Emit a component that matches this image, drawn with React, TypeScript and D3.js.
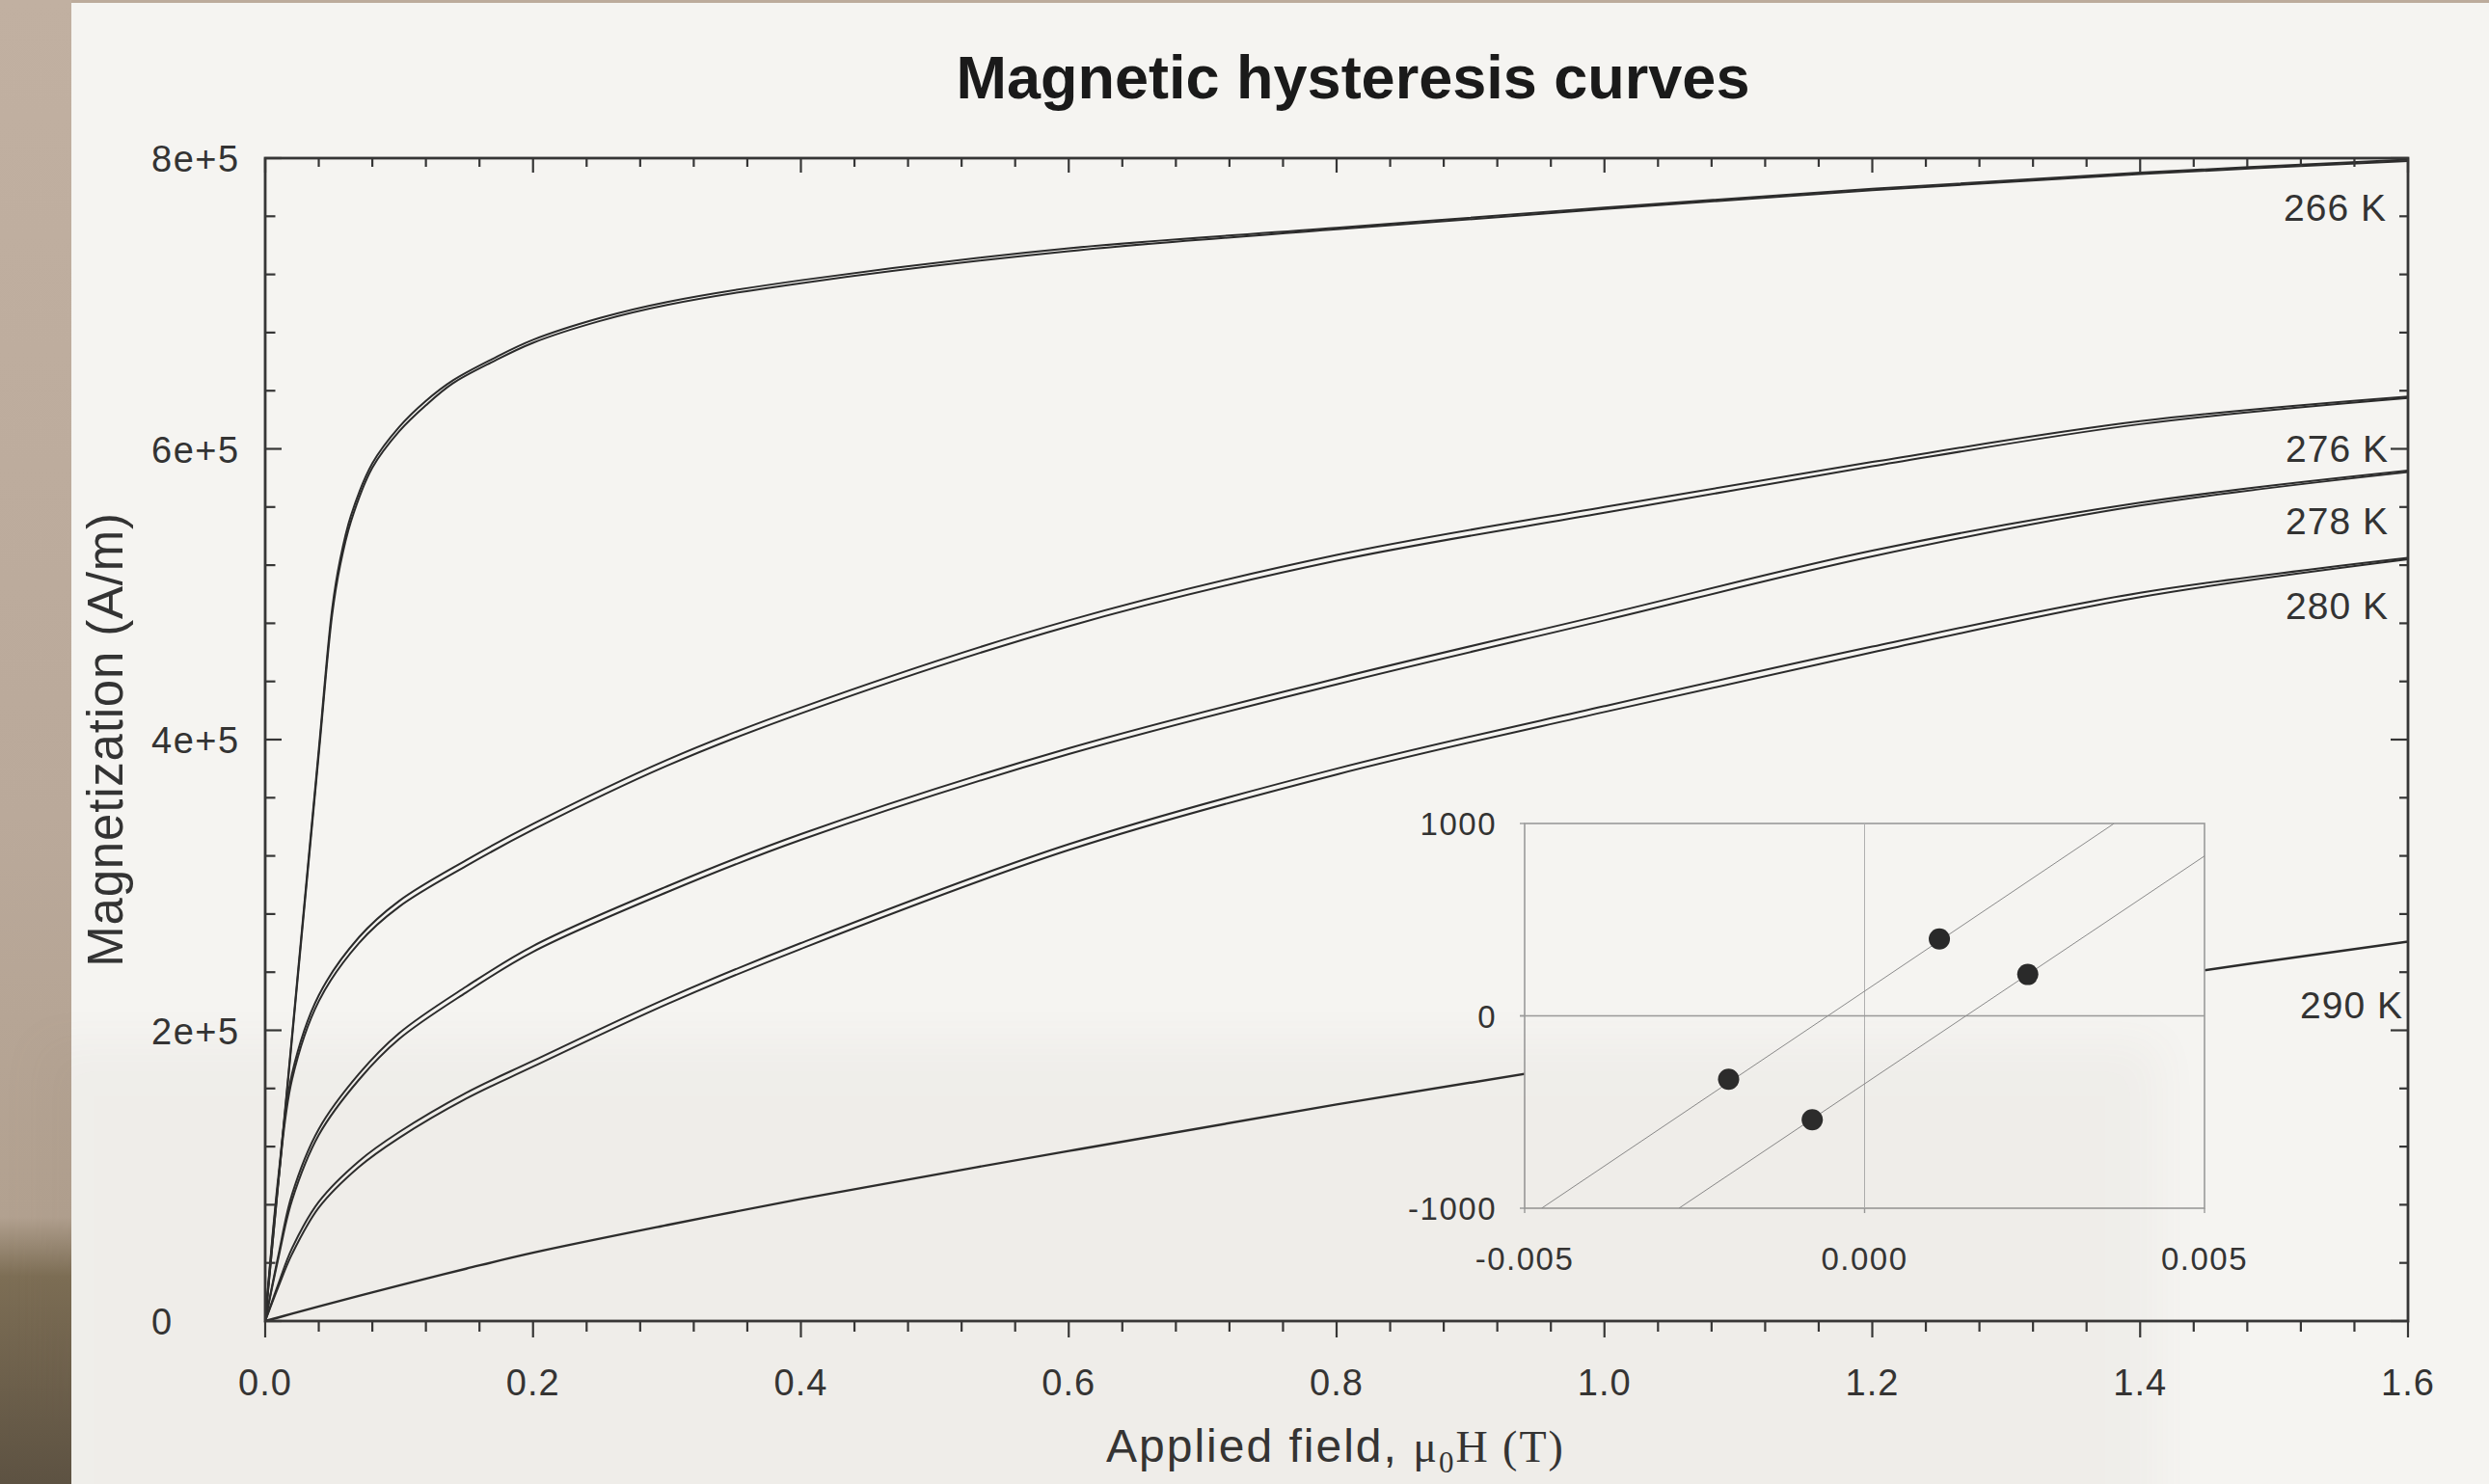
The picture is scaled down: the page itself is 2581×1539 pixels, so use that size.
import React from 'react'
import * as d3 from 'd3'

// applied field grid (T) shared by the 276-290 K loops
const fieldGrid = [0, 0.01, 0.02, 0.04, 0.07, 0.1, 0.15, 0.2, 0.3, 0.4, 0.6, 0.8, 1.0, 1.2, 1.4, 1.6]

// 266 K needs a denser grid round the knee
const field266 = [0, 0.02, 0.04, 0.05, 0.056, 0.064, 0.08, 0.1, 0.12, 0.14, 0.17, 0.2, 0.25, 0.3, 0.4, 0.6, 0.8, 1.0, 1.2, 1.4, 1.6]
const m266Up = [0, 194, 390, 486, 520, 550, 587, 612, 630, 645, 660, 673, 688, 699, 714, 736, 751, 765, 778, 789, 798]
const m266Down = [0, 196, 393, 490, 524, 554, 590, 615, 633, 647, 662, 675, 690, 701, 716, 738, 752, 766, 779, 790, 799]

// magnetization in kA/m, rising and falling branch
const m276Up = [0, 98, 166, 220, 260, 285, 313, 338, 382, 418, 478, 523, 556, 588, 617, 635]
const m276Down = [0, 101, 170, 224, 264, 289, 317, 342, 386, 422, 482, 527, 560, 591, 619, 636]
const m278Up = [0, 44, 83, 128, 166, 194, 226, 254, 295, 331, 390, 438, 482, 526, 561, 584]
const m278Down = [0, 46, 87, 132, 170, 198, 230, 258, 299, 335, 394, 442, 486, 530, 563, 585]
const m280Up = [0, 24, 46, 78, 106, 126, 153, 175, 218, 256, 324, 376, 419, 460, 498, 524]
const m280Down = [0, 26, 50, 82, 110, 130, 157, 179, 222, 260, 328, 380, 423, 464, 501, 525]
const m290 = [0, 2.5, 5, 10, 17.3, 24.5, 36, 47, 66, 84, 117, 149, 179, 207, 235, 261]

const tempLabels = ['266 K', '276 K', '278 K', '280 K', '290 K']

const xTicks = [0, 0.2, 0.4, 0.6, 0.8, 1.0, 1.2, 1.4, 1.6]
const yTicks = [0, 200, 400, 600, 800]
const yTickLabels = ['0', '2e+5', '4e+5', '6e+5', '8e+5']

// inset: zoom on the origin
const insetXTicks = [-0.005, 0, 0.005]
const insetXLabels = ['-0.005', '0.000', '0.005']
const insetYTicks = [-1000, 0, 1000]
const insetPointH = [-0.002, -0.00077, 0.0011, 0.0024]
const insetPointM = [-330, -540, 400, 215]
const fitUpperH = [-0.00475, 0.00367]
const fitUpperM = [-1000, 1000]
const fitLowerH = [-0.00273, 0.005]
const fitLowerM = [-1000, 831]

const W = 2581
const H = 1539
const sans = "'Liberation Sans', Arial, sans-serif"
const serif = "'Liberation Serif', 'Times New Roman', serif"
const ink = '#2b2b2b'
const paper = '#f5f4f1'

const zip = (a: number[], b: number[]) => a.map((v, i) => [v, b[i]] as [number, number])

export default function App() {
  const left = 275, right = 2497, top = 164, bottom = 1370

  const x = d3.scaleLinear().domain([0, 1.6]).range([left, right])
  const y = d3.scaleLinear().domain([0, 800]).range([bottom, top])

  const line = d3.line<[number, number]>()
    .x(d => x(d[0]))
    .y(d => y(d[1]))
    .curve(d3.curveCatmullRom.alpha(0.5))

  const branches = [
    zip(field266, m266Up), zip(field266, m266Down),
    zip(fieldGrid, m276Up), zip(fieldGrid, m276Down),
    zip(fieldGrid, m278Up), zip(fieldGrid, m278Down),
    zip(fieldGrid, m280Up), zip(fieldGrid, m280Down),
  ]

  const xMinor = d3.range(0, 1.6001, 0.04)
  const yMinor = d3.range(0, 800.1, 40)
  const isMajorX = (v: number) => Math.abs(v / 0.2 - Math.round(v / 0.2)) < 1e-6
  const isMajorY = (v: number) => Math.abs(v / 200 - Math.round(v / 200)) < 1e-6

  // label baselines, in data units
  const labelM = [757, 591, 541, 483, 208]
  const labelRight = [2475, 2477, 2477, 2477, 2492]

  // inset scales
  const ix = d3.scaleLinear().domain([-0.005, 0.005]).range([1581, 2286])
  const iy = d3.scaleLinear().domain([-1000, 1000]).range([1253, 854])
  const iline = d3.line<[number, number]>().x(d => ix(d[0])).y(d => iy(d[1]))

  return (
    <svg width={W} height={H} style={{display: 'block'}}>
      <style>{`body{margin:0}`}</style>
      <defs>
        <linearGradient id="strip" x1="0" y1="0" x2="0" y2="1">
          <stop offset="0" stopColor="#c1b0a1" />
          <stop offset="0.55" stopColor="#baa99a" />
          <stop offset="0.82" stopColor="#b2a190" />
          <stop offset="0.86" stopColor="#7d6e55" />
          <stop offset="1" stopColor="#5d5242" />
        </linearGradient>
        <filter id="soft" x="-20%" y="-20%" width="140%" height="140%">
          <feGaussianBlur stdDeviation="24" />
        </filter>
        <clipPath id="insetClip">
          <rect x={ix(-0.005)} y={iy(1000)} width={ix(0.005) - ix(-0.005)} height={iy(-1000) - iy(1000)} />
        </clipPath>
      </defs>

      {/* photo background */}
      <rect x={0} y={0} width={W} height={H} fill="#bcab9c" />
      <rect x={0} y={0} width={74} height={H} fill="url(#strip)" />
      <rect x={74} y={3} width={W - 74} height={H - 3} fill={paper} />

      {/* title */}
      <text x={1403} y={102} textAnchor="middle" fontFamily={sans} fontWeight="bold" fontSize={63} fill="#1a1a1a">
        Magnetic hysteresis curves
      </text>

      {/* curves */}
      {branches.map((b, i) => (
        <path key={i} d={line(b) || ''} fill="none" stroke={ink} strokeWidth={2} />
      ))}
      <path d={line(zip(fieldGrid, m290)) || ''} fill="none" stroke={ink} strokeWidth={2.4} />

      {/* frame */}
      <rect x={left} y={top} width={right - left} height={bottom - top} fill="none" stroke="#363636" strokeWidth={2.8} />

      {/* x ticks: bottom outward, top inward */}
      {xMinor.map((v, i) => {
        const big = isMajorX(v)
        return (
          <g key={'x' + i} stroke="#363636" strokeWidth={2.2}>
            <line x1={x(v)} x2={x(v)} y1={bottom} y2={bottom + (big ? 17 : 11)} />
            <line x1={x(v)} x2={x(v)} y1={top} y2={top + (big ? 15 : 9)} />
          </g>
        )
      })}
      {/* y ticks: both sides inward */}
      {yMinor.map((v, i) => {
        const big = isMajorY(v)
        return (
          <g key={'y' + i} stroke="#363636" strokeWidth={2.2}>
            <line x1={left} x2={left + (big ? 17 : 10.5)} y1={y(v)} y2={y(v)} />
            <line x1={right} x2={right - (big ? 18 : 9)} y1={y(v)} y2={y(v)} />
          </g>
        )
      })}

      {xTicks.map((v, i) => (
        <text key={'xl' + i} x={x(v)} y={1447} textAnchor="middle" fontFamily={sans} fontSize={38} letterSpacing={1} fill="#333">
          {v.toFixed(1)}
        </text>
      ))}
      {yTicks.map((v, i) => (
        <text key={'yl' + i} x={157} y={y(v) + 14} textAnchor="start" fontFamily={sans} fontSize={38} letterSpacing={1.5} fill="#333">
          {yTickLabels[i]}
        </text>
      ))}

      {/* axis titles */}
      <text transform={`translate(127, ${(top + bottom) / 2}) rotate(-90)`} textAnchor="middle" fontFamily={sans} fontSize={51} letterSpacing={0.8} fill="#333">
        Magnetization (A/m)
      </text>
      <text x={1147} y={1516} fontFamily={sans} fontSize={48} letterSpacing={2} fill="#333">
        Applied field,{' '}
        <tspan fontFamily={serif} fontSize={46} letterSpacing={2}>μ</tspan>
        <tspan fontFamily={serif} fontSize={31} dy={11} letterSpacing={2}>0</tspan>
        <tspan fontFamily={serif} fontSize={46} dy={-11} letterSpacing={2}>H (T)</tspan>
      </text>

      {/* temperature labels */}
      {tempLabels.map((t, i) => (
        <text key={t} x={labelRight[i]} y={y(labelM[i])} textAnchor="end" fontFamily={sans} fontSize={39} letterSpacing={1} fill="#333">
          {t}
        </text>
      ))}

      {/* inset */}
      <rect x={ix(-0.005)} y={iy(1000)} width={ix(0.005) - ix(-0.005)} height={iy(-1000) - iy(1000)} fill={paper} stroke="#9a9a9a" strokeWidth={1.6} />
      <line x1={ix(0)} x2={ix(0)} y1={iy(1000)} y2={iy(-1000) + 5} stroke="#b0b0b0" strokeWidth={1} />
      <line x1={ix(-0.005) - 5} x2={ix(0.005)} y1={iy(0)} y2={iy(0)} stroke="#9a9a9a" strokeWidth={1.6} />
      {insetXTicks.map((v, i) => (
        <g key={'ixt' + i}>
          <line x1={ix(v)} x2={ix(v)} y1={iy(-1000)} y2={iy(-1000) + 5} stroke="#9a9a9a" strokeWidth={1.4} />
          <text x={ix(v)} y={1317} textAnchor="middle" fontFamily={sans} fontSize={33} letterSpacing={1.5} fill="#333">
            {insetXLabels[i]}
          </text>
        </g>
      ))}
      {insetYTicks.map((v, i) => (
        <g key={'iyt' + i}>
          <line x1={ix(-0.005) - 5} x2={ix(-0.005)} y1={iy(v)} y2={iy(v)} stroke="#9a9a9a" strokeWidth={1.4} />
          <text x={1552} y={iy(v) + 12} textAnchor="end" fontFamily={sans} fontSize={33} letterSpacing={1.5} fill="#333">
            {String(v)}
          </text>
        </g>
      ))}
      <g clipPath="url(#insetClip)">
        <path d={iline(zip(fitUpperH, fitUpperM)) || ''} fill="none" stroke="#8a8a8a" strokeWidth={1} />
        <path d={iline(zip(fitLowerH, fitLowerM)) || ''} fill="none" stroke="#8a8a8a" strokeWidth={1} />
      </g>
      {insetPointH.map((h, i) => (
        <circle key={'p' + i} cx={ix(h)} cy={iy(insetPointM[i])} r={11} fill="#2a2a2a" />
      ))}

      {/* slight shadow on the lower part of the sheet */}
      <rect x={40} y={1080} width={2200} height={520} fill="#6b5a48" opacity={0.04} filter="url(#soft)" />
    </svg>
  )
}
